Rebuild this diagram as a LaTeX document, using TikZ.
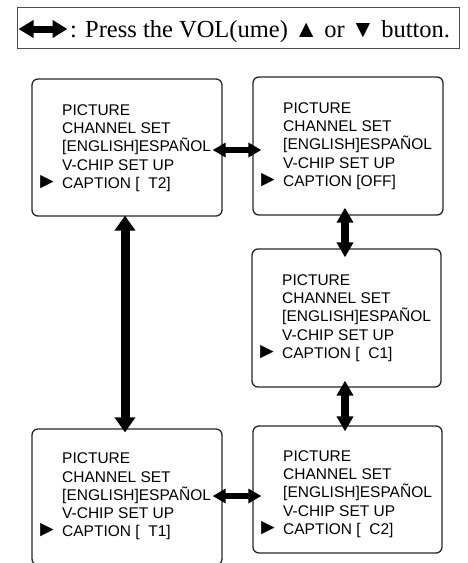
\documentclass[tikz,border=0pt]{standalone}
\usepackage{fontspec}
\setmainfont{Liberation Sans}
\newfontfamily\serifhdr{Liberation Serif}
\usetikzlibrary{arrows.meta,calc}
\tikzset{
  menubox/.style={draw=black!85, line width=1.3pt, rounded corners=6pt, inner sep=0pt},
  menutext/.style={anchor=west, align=left, inner sep=0pt, font=\fontsize{15.5}{18.2}\selectfont},
  bigarrow/.style={line width=6pt, {Triangle[length=13pt,width=14pt]}-{Triangle[length=13pt,width=14pt]}},
  tallarrow/.style={line width=9pt, {Triangle[length=15pt,width=20pt]}-{Triangle[length=15pt,width=20pt]}},
  midarrow/.style={line width=8pt, {Triangle[length=15pt,width=16pt]}-{Triangle[length=15pt,width=16pt]}},
}
\newcommand{\ptr}{\llap{\scalebox{1.45}{►}\hspace{4pt}}}
\begin{document}
\begin{tikzpicture}[x=1pt,y=-1pt]
\useasboundingbox (0,0) rectangle (468,563);
% header
\node[draw=black!70, line width=1pt, minimum width=442pt, minimum height=41pt, inner sep=0pt] (hbox) at (238,27.5) {};
\node[anchor=base west, inner sep=0pt, font=\serifhdr\fontsize{24.5}{29}\selectfont] (htext) at (70,37) {: Press the VOL(ume) ▲ or ▼ button.};
\coordinate (hl) at ($(hbox.west)+(2,1.5)$);
\coordinate (hr) at ($(hbox.west)+(51,1.5)$);
\draw[line width=7pt, {Triangle[length=15pt,width=17pt]}-{Triangle[length=15pt,width=17pt]}] (hl) -- (hr);
% boxes
\node[menubox, minimum width=190pt, minimum height=137pt] (b1) at (127,147.5) {};
\node[menubox, minimum width=190pt, minimum height=138pt] (b2) at (348,146) {};
\node[menubox, minimum width=189pt, minimum height=138pt] (b3) at (346.5,318) {};
\node[menubox, minimum width=190pt, minimum height=136pt] (b4) at (127,497) {};
\node[menubox, minimum width=189pt, minimum height=127pt] (b5) at (347.5,489.5) {};
% texts
\node[menutext] (t1) at (62,148) {PICTURE\\CHANNEL SET\\[0pt][ENGLISH]ESPAÑOL\\V-CHIP SET UP\\\ptr CAPTION [\ \ T2]};
\node[menutext] (t2) at (283,146) {PICTURE\\CHANNEL SET\\[0pt][ENGLISH]ESPAÑOL\\V-CHIP SET UP\\\ptr CAPTION [OFF]};
\node[menutext] (t3) at (282,318) {PICTURE\\CHANNEL SET\\[0pt][ENGLISH]ESPAÑOL\\V-CHIP SET UP\\\ptr CAPTION [\ \ C1]};
\node[menutext] (t4) at (62,496.5) {PICTURE\\CHANNEL SET\\[0pt][ENGLISH]ESPAÑOL\\V-CHIP SET UP\\\ptr CAPTION [\ \ T1]};
\node[menutext] (t5) at (283,494) {PICTURE\\CHANNEL SET\\[0pt][ENGLISH]ESPAÑOL\\V-CHIP SET UP\\\ptr CAPTION [\ \ C2]};
% arrows
\draw[bigarrow] ($(b1.east)+(-10,2.5)$) -- ($(b2.west)+(9,4)$);
\draw[bigarrow] ($(b4.east)+(-10,-1)$) -- ($(b5.west)+(9,6.5)$);
\draw[tallarrow] ($(b1.south)+(-2,-1)$) -- ($(b4.north)+(-2,4)$);
\draw[midarrow] ($(b2.south)+(-3,-8)$) -- ($(b3.north)+(-1.5,9)$);
\draw[midarrow] ($(b3.south)+(-1.5,-7)$) -- ($(b5.north)+(-2.5,6)$);
\end{tikzpicture}
\end{document}
